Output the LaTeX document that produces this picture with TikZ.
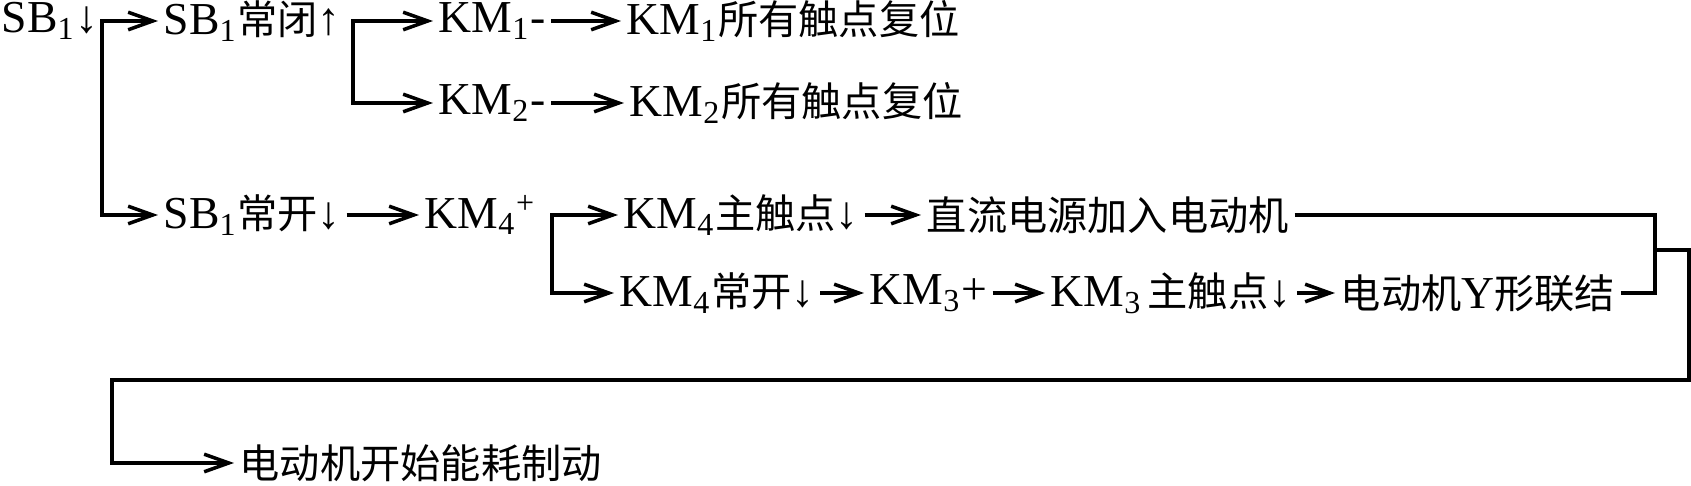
\documentclass[tikz,border=0pt]{standalone}
\usepackage{fontspec}
\setmainfont{Liberation Serif}
\newfontfamily\cjk{Noto Sans CJK SC}[Scale=0.88]
\usetikzlibrary{arrows.meta}

\begin{document}
\begin{tikzpicture}[x=0.01cm, y=-0.01cm, line width=1pt,
    >={Straight Barb[length=7pt,width=5pt]},
    stage/.style={anchor=west, inner xsep=0.04cm, inner ysep=1pt, font=\fontsize{13}{15}\selectfont}]

  % Row heights of the sequence
  \def\rowA{21}
  \def\rowB{103}
  \def\rowC{215}
  \def\rowD{293}
  \def\rowE{463}

  \useasboundingbox (0,0) rectangle (1691,486);

  % Steps of the sequence
  \node[stage] (sb) at (-4,\rowA) {SB\textsubscript{1}↓};
  \node[stage] (nc) at (158,\rowA) {SB\textsubscript{1}{\cjk 常闭}↑};
  \node[stage] (km1) at (433,\rowA) {KM\textsubscript{1}-};
  \node[stage] (km1all) at (621,\rowA) {KM\textsubscript{1}{\cjk 所有触点复位}};
  \node[stage] (km2) at (433,\rowB) {KM\textsubscript{2}-};
  \node[stage] (km2all) at (624,\rowB) {KM\textsubscript{2}{\cjk 所有触点复位}};
  \node[stage] (no) at (158,\rowC) {SB\textsubscript{1}{\cjk 常开}↓};
  \node[stage] (km4) at (419,\rowC) {KM\textsubscript{4}\textsuperscript{+}};
  \node[stage] (km4main) at (618,\rowC) {KM\textsubscript{4}{\cjk 主触点}↓};
  \node[stage] (dc) at (921,\rowC) {{\cjk 直流电源加入电动机}};
  \node[stage] (km4no) at (614,\rowD) {KM\textsubscript{4}{\cjk 常开}↓};
  \node[stage] (km3) at (864,\rowD) {KM\textsubscript{3}+};
  \node[stage] (km3main) at (1045,\rowD) {KM\textsubscript{3}\hspace{0.12em}{\cjk 主触点}↓};
  \node[stage] (ystar) at (1335,\rowD) {{\cjk 电动机}Y{\cjk 形联结}};
  \node[stage] (brake) at (234,\rowE) {{\cjk 电动机开始能耗制动}};

  % Corner points of the branch lines
  \coordinate (split1) at (102,\rowC);
  \coordinate (split2) at (353,\rowB);
  \coordinate (split3) at (552,\rowD);
  \coordinate (merge) at (1655,250);
  \coordinate (turnR) at (1689,380);
  \coordinate (turnL) at (112,380);

  % Branches
  \draw[<->] (nc.west) -| (split1) -- (no.west);
  \draw[<->] (km1.west) -| (split2) -- (km2.west);
  \draw[<->] (km4main.west) -| (split3) -- (km4no.west);

  % Steps in a row
  \draw[->] (km1.east) -- (km1all.west);
  \draw[->] (km2.east) -- (km2all.west);
  \draw[->] (no.east) -- (km4.west);
  \draw[->] (km4main.east) -- (dc.west);
  \draw[->] (km4no.east) -- (km3.west);
  \draw[->] (km3.east) -- (km3main.west);
  \draw[->] (km3main.east) -- (ystar.west);

  % Both results lead to braking
  \draw (dc.east) -| (merge);
  \draw (ystar.east) -| (merge);
  \draw[->] (merge) -| (turnR) -- (turnL) |- (brake.west);

\end{tikzpicture}
\end{document}
